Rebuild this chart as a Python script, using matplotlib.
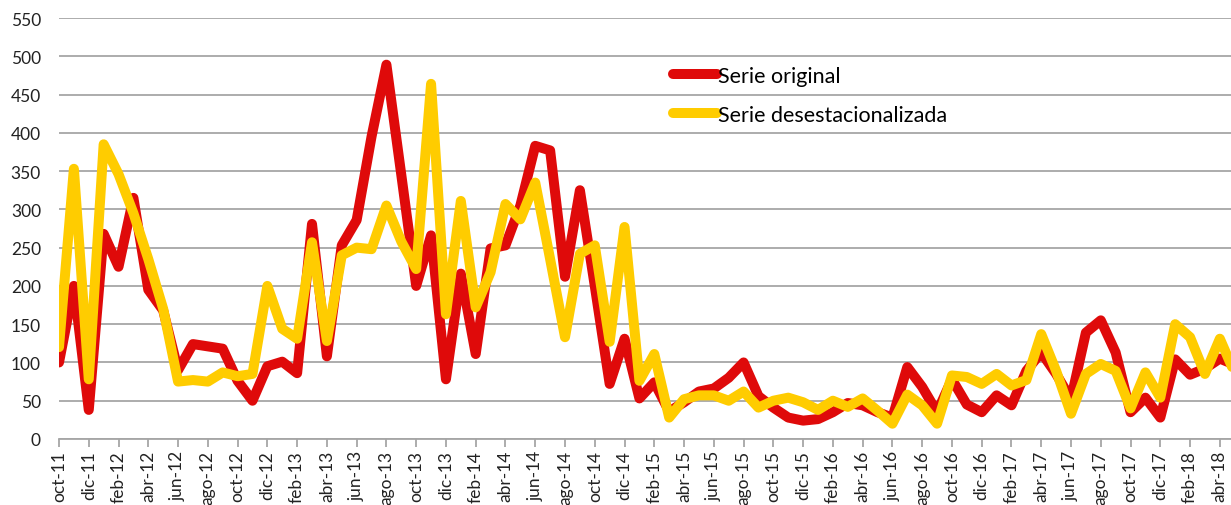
import numpy as np
import matplotlib
matplotlib.use('Agg')
from matplotlib import pyplot as plt

plt.rcParams['font.family'] = ['Lato', 'DejaVu Sans']

# months from oct-11 to may-18 (last one is cut at the right edge)
meses = ['ene', 'feb', 'mar', 'abr', 'may', 'jun',
         'jul', 'ago', 'sep', 'oct', 'nov', 'dic']
labels = []
for k in range(80):
    m = (9 + k) % 12
    y = 11 + (9 + k) // 12
    labels.append('{}-{}'.format(meses[m], y))

serie_original = [100, 200, 38, 268, 225, 315, 195, 168, 90, 124,
                  121, 118, 76, 50, 95, 101, 86, 281, 108, 253,
                  286, 395, 489, 345, 200, 266, 78, 216, 111, 249,
                  253, 305, 383, 377, 212, 325, 200, 72, 131, 53,
                  74, 36, 48, 62, 66, 80, 100, 56, 41, 28,
                  24, 26, 35, 47, 44, 35, 28, 94, 68, 35,
                  78, 45, 35, 57, 44, 89, 113, 85, 52, 139,
                  155, 113, 35, 54, 28, 104, 84, 92, 105, 97]

serie_desest = [120, 353, 78, 385, 346, 295, 235, 170, 75, 77,
                75, 87, 82, 85, 200, 144, 131, 257, 128, 240,
                250, 248, 305, 258, 222, 464, 163, 311, 172, 218,
                307, 287, 335, 235, 133, 242, 253, 127, 277, 76,
                111, 28, 52, 57, 57, 50, 62, 41, 50, 54,
                48, 38, 50, 42, 53, 37, 20, 58, 44, 20,
                83, 81, 72, 85, 70, 77, 137, 89, 33, 85,
                98, 89, 40, 87, 54, 150, 133, 85, 131, 86]

x = np.arange(len(labels))

fig = plt.figure(figsize=(12.31, 5.06), dpi=100)
ax = fig.add_axes([59 / 1231, 66 / 506, 1172 / 1231, 421 / 506])

ax.plot(x, serie_original, color='#DF0A0A', lw=7.2, label='Serie original',
        solid_joinstyle='round', solid_capstyle='round')
ax.plot(x, serie_desest, color='#FFCC00', lw=7.2, label='Serie desestacionalizada',
        solid_joinstyle='round', solid_capstyle='round')

ax.set_ylim(0, 550)
ax.set_xlim(0, 78.75)
ax.set_yticks(np.arange(0, 551, 50))
ax.yaxis.grid(True, color='#A6A6A6', lw=1.3)
ax.set_axisbelow(True)

ax.set_xticks(x[::2])
ax.set_xticklabels(labels[::2], rotation=90)

for s in ['top', 'right', 'left']:
    ax.spines[s].set_visible(False)
ax.spines['bottom'].set_color('#A6A6A6')
ax.spines['bottom'].set_linewidth(1.3)

ax.tick_params(axis='y', length=0, pad=13, labelsize=12.5, colors='#222222')
ax.tick_params(axis='x', length=6, width=1.3, color='#A6A6A6', pad=2,
               labelsize=12.5, labelcolor='#222222')

leg = ax.legend(loc='upper left', bbox_to_anchor=(0.524, 0.886), frameon=False,
                fontsize=15.5, handlelength=2.05, handletextpad=0.05,
                borderpad=0, borderaxespad=0, labelspacing=0.88)

plt.savefig('out.png', dpi=100)
